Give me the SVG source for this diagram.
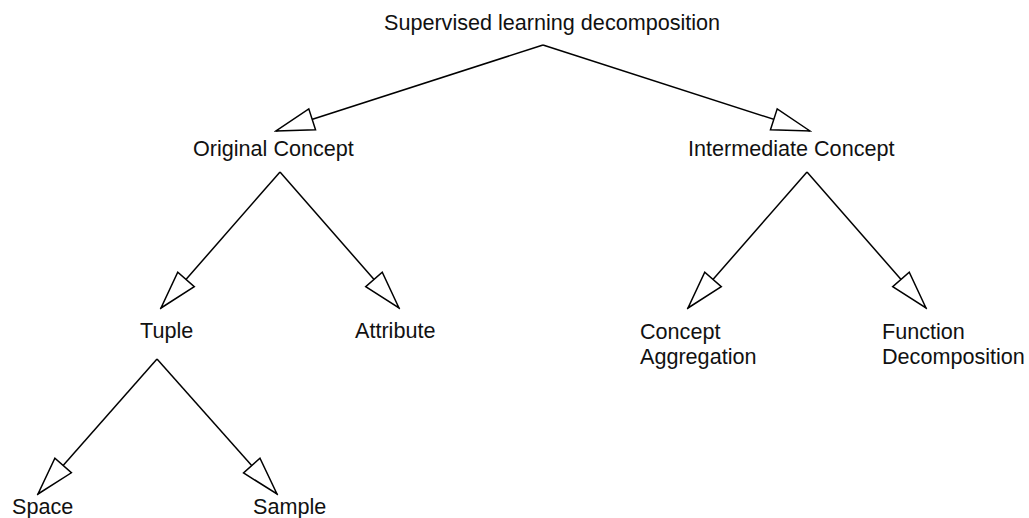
<svg xmlns="http://www.w3.org/2000/svg" width="1029" height="518" viewBox="0 0 1029 518">
<style>
text{font-family:"Liberation Sans",Arial,sans-serif;font-size:21.6px;fill:#111}
.c line{stroke:#000;stroke-width:1.5;marker-end:url(#tri)}
</style>
<defs>
<marker id="tri" markerUnits="userSpaceOnUse" viewBox="-2 -13 42 26" markerWidth="42" markerHeight="26" refX="38" refY="0" orient="auto">
<path d="M38 0 L0 -11 L0 11 Z" fill="#fff" stroke="#000" stroke-width="1.5" stroke-linejoin="miter"/>
</marker>
</defs>
<rect width="1029" height="518" fill="#fff"/>
<g id="connectors" class="c">
<line x1="543" y1="45" x2="276" y2="131"/>
<line x1="543" y1="45" x2="810" y2="131"/>
<line x1="280" y1="172" x2="161" y2="308"/>
<line x1="280" y1="172" x2="399" y2="308"/>
<line x1="157" y1="359" x2="38" y2="494"/>
<line x1="157" y1="359" x2="277" y2="494"/>
<line x1="807" y1="172" x2="688" y2="308"/>
<line x1="807" y1="172" x2="926" y2="308"/>
</g>
<g id="root"><text x="384" y="30">Supervised learning decomposition</text></g>
<g id="original"><text x="193" y="156">Original Concept</text></g>
<g id="intermediate"><text x="688" y="156">Intermediate Concept</text></g>
<g id="tuple"><text x="140" y="338">Tuple</text></g>
<g id="attribute"><text x="355" y="338">Attribute</text></g>
<g id="aggregation"><text x="640" y="339">Concept</text><text x="640" y="364">Aggregation</text></g>
<g id="function"><text x="882" y="339">Function</text><text x="882" y="364">Decomposition</text></g>
<g id="space"><text x="12" y="514">Space</text></g>
<g id="sample"><text x="253" y="514">Sample</text></g>
</svg>
